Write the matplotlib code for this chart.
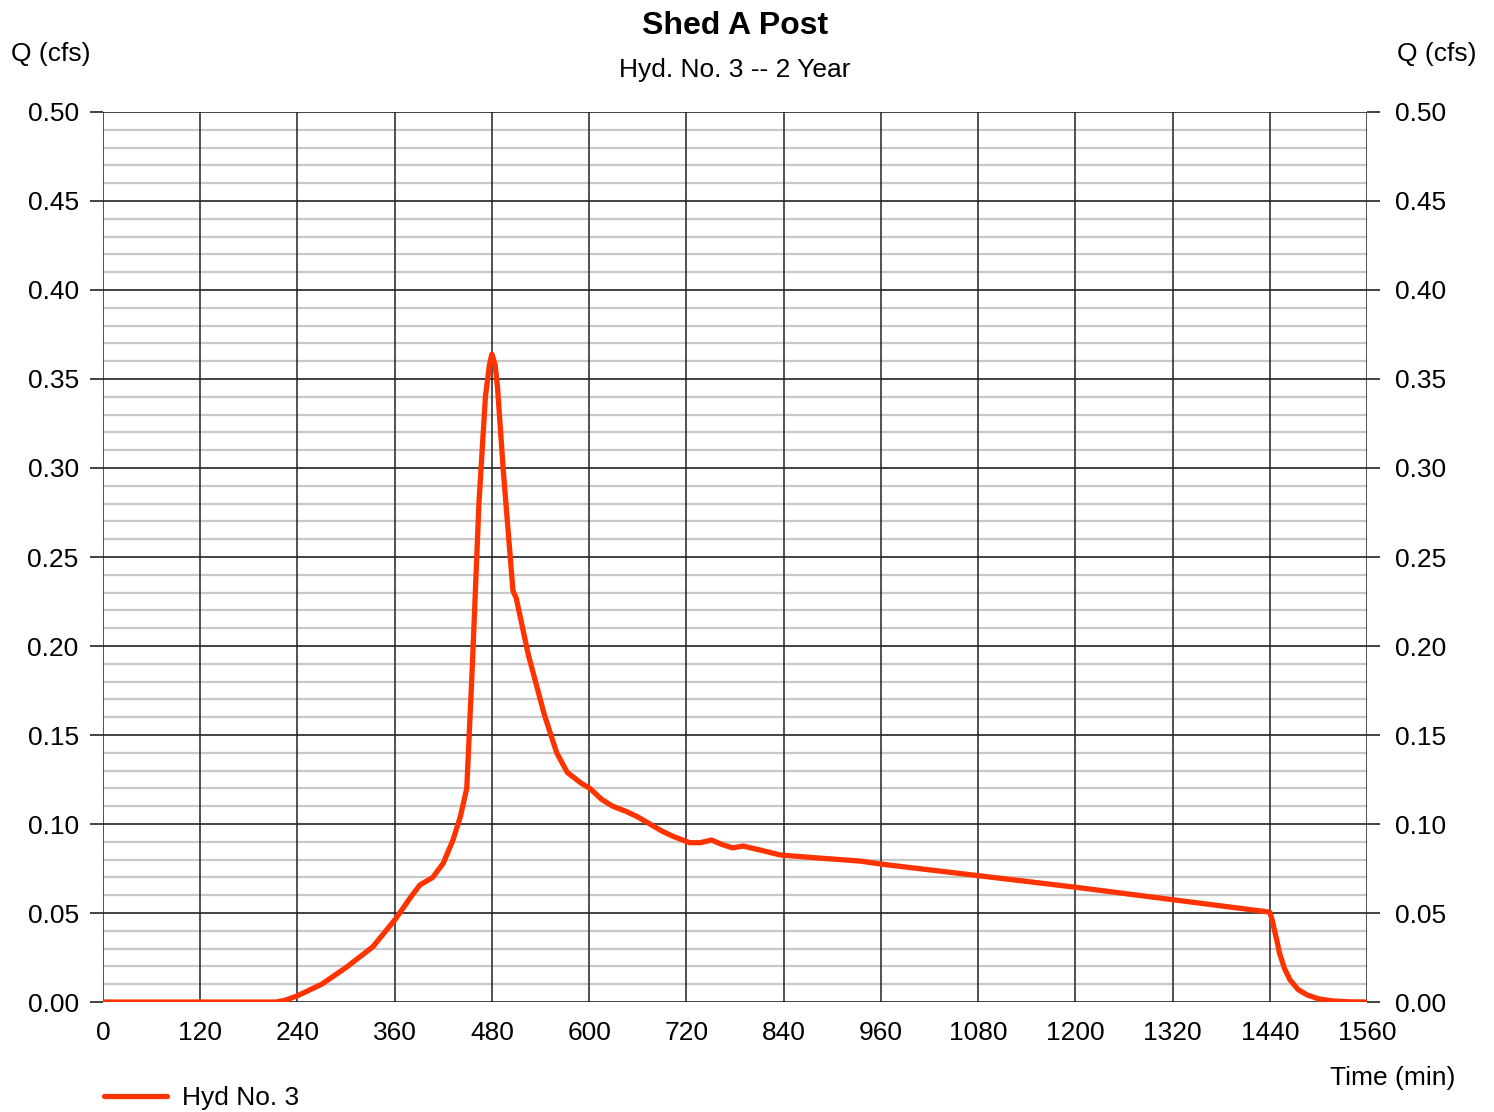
import matplotlib
matplotlib.use('Agg')
import matplotlib.pyplot as plt
import numpy as np

plt.rcParams['font.family'] = ['Liberation Sans', 'DejaVu Sans']

# hydrograph
time_min = [0, 120, 214, 225, 240, 270, 301, 333, 360, 380, 391, 407, 420, 432, 441, 449,
            456, 464, 472, 477, 480, 484, 487, 494, 500, 506, 510, 525, 545, 560, 573, 590, 601,
            615, 629, 646, 660, 675, 690, 704, 724, 737, 751, 764, 777, 790, 811, 836,
            880, 934, 960, 1080, 1200, 1320, 1440, 1443, 1446, 1449, 1452, 1458, 1465,
            1475, 1486, 1500, 1518, 1540, 1560]
flow_cfs = [0, 0, 0, 0.001, 0.0035, 0.010, 0.0197, 0.031, 0.046, 0.059, 0.0657, 0.070, 0.078, 0.091, 0.104, 0.120,
            0.19, 0.28, 0.34, 0.358, 0.364, 0.358, 0.345, 0.299, 0.265, 0.231, 0.227, 0.195, 0.161, 0.140, 0.129, 0.123, 0.120,
            0.114, 0.110, 0.107, 0.104, 0.100, 0.096, 0.093, 0.0895, 0.0895, 0.091, 0.0885, 0.0866, 0.0876, 0.0854, 0.0826,
            0.081, 0.0792, 0.0775, 0.071, 0.0645, 0.0575, 0.0505, 0.046, 0.040, 0.034, 0.0275, 0.019, 0.0124,
            0.007, 0.004, 0.0018, 0.0006, 0.0001, 0]

x_ticks = np.arange(0, 1561, 120)
y_ticks = np.arange(0, 0.501, 0.05)
y_labels = ['%.2f' % v for v in y_ticks]

fig = plt.figure(figsize=(14.94, 11.12), dpi=100)
ax = fig.add_axes([0.0689, 0.0989, 0.8461, 0.8004])

# light minor grid every 0.01, dark major grid
for v in np.arange(0.01, 0.5, 0.01):
    if round(v * 100) % 5 != 0:
        ax.axhline(v, color='#c8c8c8', lw=1.6, zorder=1)
for v in y_ticks:
    ax.axhline(v, color='#222222', lw=1.2, zorder=2)
for v in x_ticks:
    ax.axvline(v, color='#222222', lw=1.1, zorder=2)

ax.plot(time_min, flow_cfs, color='#ff3300', lw=3.8, solid_capstyle='round',
        solid_joinstyle='round', zorder=3, label='Hyd No. 3')

ax.set_xlim(0, 1560)
ax.set_ylim(0, 0.5)
ax.set_xticks(x_ticks)
ax.set_yticks(y_ticks)
ax.set_yticklabels(y_labels)
for s in ax.spines.values():
    s.set_visible(False)
ax.tick_params(axis='x', length=0, pad=14, labelsize=19)
ax.tick_params(axis='y', length=9.5, width=1.2, pad=8, labelsize=19, color='#222222')

# right-hand scale
ax2 = ax.twinx()
ax2.set_ylim(0, 0.5)
ax2.set_yticks(y_ticks)
ax2.set_yticklabels(y_labels)
for s in ax2.spines.values():
    s.set_visible(False)
ax2.tick_params(axis='y', length=9.5, width=1.2, pad=11, labelsize=19, color='#222222')

fig.text(0.492, 0.977, 'Shed A Post', ha='center', va='center', fontsize=23, fontweight='bold')
fig.text(0.492, 0.937, 'Hyd. No. 3 -- 2 Year', ha='center', va='center', fontsize=19)
fig.text(0.034, 0.951, 'Q (cfs)', ha='center', va='center', fontsize=19)
fig.text(0.962, 0.951, 'Q (cfs)', ha='center', va='center', fontsize=19)
fig.text(0.974, 0.031, 'Time (min)', ha='right', va='center', fontsize=19)

fig.legend(loc='center left', bbox_to_anchor=(0.0697, 0.0125), frameon=False,
           fontsize=19, handlelength=2.4, handletextpad=0.55, borderaxespad=0, borderpad=0)

fig.savefig('out.png', dpi=100)
